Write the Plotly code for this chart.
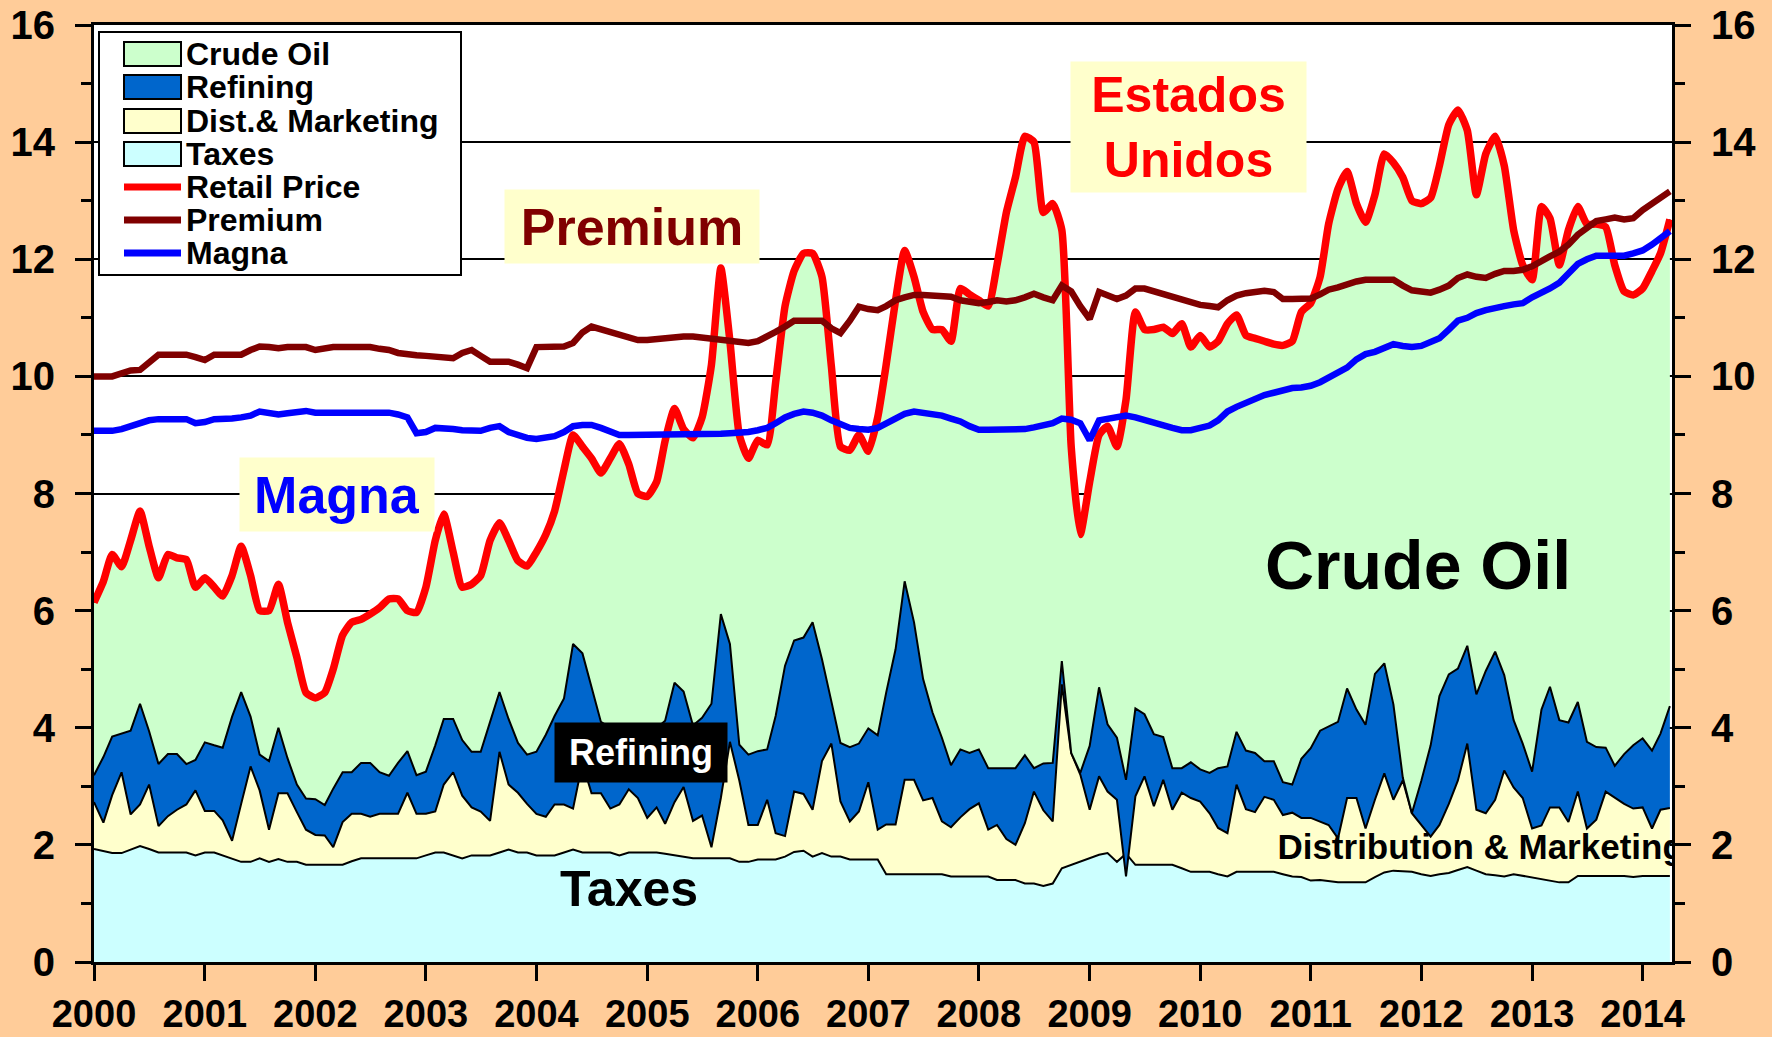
import pandas as pd
import plotly.graph_objects as go

# ---------------- data (monthly, Jan 2000 - Apr 2014) ----------------
months = pd.date_range("2000-01-01", periods=172, freq="MS")

# Retail price (top of the stacked areas)
retail_price = [
    6.14, 6.50, 6.96, 6.75, 7.20, 7.70, 7.10, 6.56, 6.96, 6.90, 6.87, 6.40,
    6.56, 6.40, 6.25, 6.60, 7.10, 6.60, 6.00, 6.00, 6.45, 5.80, 5.20, 4.60,
    4.51, 4.60, 5.00, 5.58, 5.80, 5.85, 5.94, 6.05, 6.20, 6.20, 6.00, 5.97,
    6.40, 7.20, 7.65, 7.00, 6.40, 6.45, 6.60, 7.20, 7.50, 7.20, 6.85, 6.76,
    7.00, 7.30, 7.70, 8.40, 9.00, 8.80, 8.60, 8.35, 8.60, 8.85, 8.50, 8.00,
    7.95, 8.20, 8.90, 9.45, 9.10, 8.95, 9.30, 10.20, 11.85, 10.60, 9.00, 8.60,
    8.91, 8.83, 9.90, 11.20, 11.80, 12.10, 12.10, 11.70, 10.17, 8.80, 8.74, 9.00,
    8.72, 9.30, 10.20, 11.30, 12.15, 11.70, 11.10, 10.80, 10.80, 10.60, 11.50, 11.40,
    11.30, 11.20, 11.90, 12.80, 13.40, 14.10, 14.00, 12.80, 12.95, 12.50, 8.80, 7.30,
    8.20, 9.00, 9.15, 8.80, 9.60, 11.10, 10.80, 10.80, 10.84, 10.73, 10.90, 10.50,
    10.70, 10.50, 10.60, 10.90, 11.05, 10.70, 10.65, 10.60, 10.55, 10.53, 10.60, 11.10,
    11.25, 11.70, 12.60, 13.20, 13.50, 12.95, 12.63, 13.10, 13.80, 13.65, 13.40, 13.00,
    12.95, 13.05, 13.60, 14.30, 14.55, 14.20, 13.10, 13.80, 14.10, 13.60, 12.50, 11.90,
    11.65, 12.90, 12.70, 11.90, 12.50, 12.90, 12.60, 12.60, 12.55, 11.90, 11.45, 11.39,
    11.50, 11.80, 12.10, 12.68,
]

premium = [
    10.00, 10.00, 10.00, 10.05, 10.10, 10.11, 10.25, 10.37, 10.37, 10.37, 10.37, 10.33,
    10.28, 10.37, 10.37, 10.37, 10.37, 10.45, 10.51, 10.50, 10.48, 10.50, 10.51, 10.50,
    10.45, 10.48, 10.50, 10.50, 10.50, 10.51, 10.50, 10.47, 10.45, 10.40, 10.37, 10.36,
    10.35, 10.34, 10.33, 10.31, 10.40, 10.45, 10.35, 10.25, 10.25, 10.25, 10.20, 10.14,
    10.50, 10.51, 10.51, 10.51, 10.57, 10.75, 10.85, 10.80, 10.76, 10.70, 10.65, 10.62,
    10.62, 10.64, 10.66, 10.68, 10.68, 10.68, 10.66, 10.64, 10.62, 10.60, 10.57, 10.57,
    10.60, 10.70, 10.76, 10.85, 10.95, 10.95, 10.95, 10.95, 10.82, 10.74, 10.95, 11.19,
    11.15, 11.13, 11.20, 11.30, 11.35, 11.39, 11.39, 11.38, 11.37, 11.36, 11.30, 11.27,
    11.25, 11.27, 11.30, 11.28, 11.30, 11.35, 11.41, 11.35, 11.30, 11.55, 11.45, 11.20,
    10.98, 11.44, 11.38, 11.32, 11.38, 11.50, 11.50, 11.45, 11.41, 11.35, 11.30, 11.26,
    11.22, 11.20, 11.18, 11.30, 11.38, 11.42, 11.45, 11.46, 11.44, 11.32, 11.32, 11.32,
    11.33, 11.40, 11.48, 11.52, 11.58, 11.62, 11.65, 11.65, 11.65, 11.65, 11.55, 11.47,
    11.45, 11.43, 11.48, 11.55, 11.68, 11.74, 11.70, 11.68, 11.75, 11.80, 11.80, 11.82,
    11.88, 11.98, 12.05, 12.13, 12.25, 12.42, 12.55, 12.65, 12.68, 12.71, 12.68, 12.70,
    12.84, 12.95, 13.05, 13.16,
]

magna = [
    9.07, 9.07, 9.07, 9.10, 9.15, 9.20, 9.25, 9.27, 9.27, 9.27, 9.27, 9.20,
    9.22, 9.27, 9.27, 9.28, 9.30, 9.33, 9.40, 9.38, 9.35, 9.37, 9.40, 9.41,
    9.38, 9.38, 9.38, 9.38, 9.38, 9.38, 9.38, 9.38, 9.38, 9.35, 9.30, 9.03,
    9.05, 9.12, 9.12, 9.10, 9.08, 9.07, 9.07, 9.12, 9.15, 9.05, 8.99, 8.95,
    8.93, 8.95, 8.98, 9.05, 9.15, 9.17, 9.17, 9.12, 9.05, 9.00, 9.00, 9.00,
    9.00, 9.00, 9.00, 9.00, 9.00, 9.00, 9.00, 9.00, 9.02, 9.03, 9.03, 9.05,
    9.08, 9.12, 9.20, 9.30, 9.36, 9.40, 9.38, 9.33, 9.25, 9.18, 9.12, 9.10,
    9.09, 9.12, 9.20, 9.28, 9.36, 9.40, 9.38, 9.37, 9.33, 9.28, 9.23, 9.15,
    9.09, 9.09, 9.09, 9.10, 9.10, 9.10, 9.13, 9.16, 9.20, 9.28, 9.26, 9.20,
    8.91, 9.25, 9.28, 9.30, 9.33, 9.30, 9.25, 9.20, 9.16, 9.12, 9.08, 9.08,
    9.12, 9.16, 9.25, 9.40, 9.48, 9.55, 9.63, 9.68, 9.72, 9.76, 9.80, 9.81,
    9.84, 9.90, 9.98, 10.06, 10.15, 10.29, 10.38, 10.42, 10.48, 10.55, 10.52, 10.50,
    10.52, 10.58, 10.65, 10.80, 10.95, 11.00, 11.08, 11.13, 11.18, 11.20, 11.23, 11.25,
    11.35, 11.42, 11.50, 11.60, 11.75, 11.92, 12.00, 12.06, 12.06, 12.06, 12.06, 12.10,
    12.15, 12.25, 12.35, 12.48,
]

# Cumulative levels of the stacked components
taxes_level = [
    1.93, 1.90, 1.86, 1.86, 1.92, 1.98, 1.93, 1.87, 1.87, 1.87, 1.87, 1.82,
    1.87, 1.87, 1.82, 1.77, 1.71, 1.71, 1.77, 1.71, 1.76, 1.71, 1.71, 1.66,
    1.66, 1.66, 1.66, 1.66, 1.72, 1.77, 1.77, 1.77, 1.77, 1.77, 1.77, 1.77,
    1.82, 1.87, 1.87, 1.82, 1.77, 1.82, 1.82, 1.82, 1.87, 1.92, 1.87, 1.87,
    1.82, 1.82, 1.82, 1.87, 1.92, 1.87, 1.87, 1.87, 1.87, 1.82, 1.87, 1.87,
    1.87, 1.87, 1.85, 1.82, 1.80, 1.77, 1.77, 1.77, 1.77, 1.77, 1.71, 1.71,
    1.75, 1.75, 1.75, 1.80, 1.88, 1.90, 1.80, 1.86, 1.80, 1.80, 1.75, 1.75,
    1.75, 1.75, 1.50, 1.50, 1.50, 1.50, 1.50, 1.50, 1.50, 1.46, 1.46, 1.46,
    1.46, 1.46, 1.40, 1.40, 1.40, 1.34, 1.34, 1.30, 1.34, 1.60, 1.66, 1.72,
    1.77, 1.83, 1.86, 1.71, 1.85, 1.66, 1.66, 1.66, 1.66, 1.66, 1.60, 1.54,
    1.54, 1.54, 1.50, 1.46, 1.54, 1.54, 1.54, 1.54, 1.54, 1.50, 1.46, 1.45,
    1.39, 1.40, 1.38, 1.36, 1.36, 1.36, 1.36, 1.45, 1.53, 1.56, 1.55, 1.54,
    1.50, 1.47, 1.50, 1.52, 1.57, 1.62, 1.56, 1.50, 1.48, 1.46, 1.50, 1.47,
    1.44, 1.42, 1.38, 1.36, 1.36, 1.47, 1.47, 1.47, 1.47, 1.47, 1.47, 1.45,
    1.47, 1.47, 1.47, 1.47,
]

dist_marketing_level = [
    2.73, 2.38, 2.85, 3.24, 2.52, 2.69, 3.03, 2.32, 2.49, 2.60, 2.69, 2.93,
    2.58, 2.58, 2.42, 2.07, 2.70, 3.34, 2.93, 2.26, 2.88, 2.88, 2.56, 2.26,
    2.17, 2.16, 1.96, 2.39, 2.53, 2.53, 2.48, 2.53, 2.53, 2.53, 2.89, 2.53,
    2.53, 2.57, 3.03, 3.24, 2.84, 2.64, 2.57, 2.41, 3.59, 3.03, 2.89, 2.70,
    2.53, 2.48, 2.69, 2.69, 2.62, 3.40, 2.88, 2.88, 2.62, 2.69, 2.95, 2.80,
    2.46, 2.64, 2.36, 2.73, 2.99, 2.41, 2.50, 1.96, 2.80, 3.76, 3.10, 2.34,
    2.34, 2.77, 2.20, 2.15, 2.91, 2.87, 2.60, 3.43, 3.73, 2.74, 2.40, 2.57,
    3.07, 2.26, 2.35, 2.35, 3.11, 3.11, 2.76, 2.80, 2.40, 2.30, 2.47, 2.61,
    2.71, 2.26, 2.34, 2.10, 2.00, 2.37, 2.91, 2.59, 2.40, 4.74, 3.57, 3.20,
    2.60, 3.17, 2.91, 2.77, 1.46, 2.83, 3.17, 2.66, 3.11, 2.60, 2.89, 2.80,
    2.74, 2.54, 2.29, 2.20, 3.03, 2.61, 2.56, 2.82, 2.77, 2.51, 2.55, 2.46,
    2.46, 2.40, 2.34, 2.11, 2.80, 2.80, 2.28, 2.77, 3.22, 2.77, 3.10, 2.54,
    2.35, 2.14, 2.34, 2.70, 3.10, 3.73, 2.60, 2.54, 2.77, 3.27, 2.98, 2.80,
    2.28, 2.33, 2.64, 2.64, 2.39, 2.91, 2.28, 2.43, 2.91, 2.80, 2.70, 2.62,
    2.64, 2.28, 2.60, 2.63,
]

refining_level = [
    3.19, 3.50, 3.85, 3.90, 3.95, 4.41, 3.94, 3.38, 3.55, 3.55, 3.38, 3.45,
    3.75, 3.70, 3.66, 4.19, 4.61, 4.19, 3.54, 3.43, 4.00, 3.48, 3.03, 2.79,
    2.78, 2.68, 2.96, 3.24, 3.24, 3.40, 3.40, 3.24, 3.18, 3.40, 3.60, 3.19,
    3.25, 3.70, 4.15, 4.15, 3.79, 3.59, 3.59, 4.10, 4.61, 4.15, 3.74, 3.54,
    3.59, 3.88, 4.20, 4.50, 5.43, 5.27, 4.70, 4.10, 4.00, 4.00, 4.05, 3.99,
    3.99, 3.99, 4.12, 4.77, 4.62, 4.04, 4.17, 4.41, 5.94, 5.43, 3.71, 3.54,
    3.60, 3.63, 4.20, 5.06, 5.49, 5.54, 5.80, 5.17, 4.45, 3.74, 3.67, 3.73,
    3.99, 3.87, 4.60, 5.34, 6.50, 5.80, 4.83, 4.26, 3.83, 3.36, 3.63, 3.57,
    3.63, 3.31, 3.31, 3.31, 3.31, 3.53, 3.31, 3.39, 3.40, 5.14, 3.57, 3.23,
    3.69, 4.69, 4.06, 3.83, 3.11, 4.33, 4.23, 3.89, 3.84, 3.31, 3.31, 3.41,
    3.29, 3.23, 3.31, 3.34, 3.93, 3.61, 3.57, 3.43, 3.43, 3.07, 3.03, 3.47,
    3.65, 3.95, 4.02, 4.10, 4.67, 4.31, 4.05, 4.92, 5.10, 4.40, 3.15, 2.54,
    3.09, 3.70, 4.54, 4.91, 5.01, 5.40, 4.57, 4.97, 5.30, 4.90, 4.13, 3.73,
    3.25, 4.31, 4.70, 4.13, 4.09, 4.44, 3.76, 3.67, 3.66, 3.35, 3.55, 3.70,
    3.82, 3.61, 3.90, 4.37,
]

years = list(range(2000, 2015))
year_ticks = [f"{y}-01-01" for y in years]
year_labels = [str(y) for y in years]
y_major = list(range(0, 17, 2))
y_minor = list(range(1, 16, 2))

# legend entries (name, kind, colour) in display order
legend_items = [
    ("Crude Oil", "box", "#CCFFCC"),
    ("Refining", "box", "#0066CC"),
    ("Dist.& Marketing", "box", "#FFFFCC"),
    ("Taxes", "box", "#CCFFFF"),
    ("Retail Price", "line", "#FF0000"),
    ("Premium", "line", "#800000"),
    ("Magna", "line", "#0000FF"),
]

# ---------------- figure ----------------
FONT = "Liberation Sans, Arial, sans-serif"
BLACK = "#000000"
W, H = 1772, 1037
ML, MR, MT, MB = 94, 100, 25, 75
PW, PH = W - ML - MR, H - MT - MB


def px(xp):
    return (xp - ML) / PW


def py(yp):
    return (H - MB - yp) / PH


fig = go.Figure()

fig.add_trace(go.Scatter(x=months, y=taxes_level, name="Taxes", mode="lines",
                         line=dict(color=BLACK, width=2), fill="tozeroy",
                         fillcolor="#CCFFFF", showlegend=False, hoverinfo="skip"))
fig.add_trace(go.Scatter(x=months, y=dist_marketing_level, name="Dist.& Marketing", mode="lines",
                         line=dict(color=BLACK, width=2), fill="tonexty",
                         fillcolor="#FFFFCC", showlegend=False, hoverinfo="skip"))
fig.add_trace(go.Scatter(x=months, y=refining_level, name="Refining", mode="lines",
                         line=dict(color=BLACK, width=2), fill="tonexty",
                         fillcolor="#0066CC", showlegend=False, hoverinfo="skip"))
fig.add_trace(go.Scatter(x=months, y=retail_price, name="Crude Oil", mode="lines",
                         line=dict(color=BLACK, width=2, shape="spline", smoothing=0.5),
                         fill="tonexty", fillcolor="#CCFFCC", showlegend=False, hoverinfo="skip"))
fig.add_trace(go.Scatter(x=months, y=retail_price, name="Retail Price", mode="lines",
                         line=dict(color="#FF0000", width=7.5, shape="spline", smoothing=0.5),
                         showlegend=False))
fig.add_trace(go.Scatter(x=months, y=premium, name="Premium", mode="lines",
                         line=dict(color="#800000", width=6.5), showlegend=False))
fig.add_trace(go.Scatter(x=months, y=magna, name="Magna", mode="lines",
                         line=dict(color="#0000FF", width=6.5), showlegend=False))

# clipped in-plot label (runs past the right edge in the original)
fig.add_trace(go.Scatter(x=[pd.Timestamp("2010-09-13")], y=[1.91], mode="text",
                         text=["Distribution & Marketing"], textposition="middle right",
                         textfont=dict(family=FONT, size=35, color=BLACK, weight="bold"),
                         cliponaxis=True, showlegend=False, hoverinfo="skip"))

# anchor trace for the right-hand axis
fig.add_trace(go.Scatter(x=[months[0]], y=[0], yaxis="y2", mode="markers",
                         marker=dict(opacity=0), showlegend=False, hoverinfo="skip"))

tickfont = dict(family=FONT, size=40, color=BLACK, weight="bold")
xtickfont = dict(family=FONT, size=38, color=BLACK, weight="bold")
yaxis_common = dict(
    range=[0, 16], tickvals=y_major, ticktext=[str(v) for v in y_major],
    ticks="outside", ticklen=16, tickwidth=3, tickcolor=BLACK,
    showline=True, linecolor=BLACK, linewidth=3, zeroline=False,
    tickfont=tickfont, automargin=False,
    minor=dict(tickvals=y_minor, ticks="outside", ticklen=10, tickwidth=3,
               tickcolor=BLACK, showgrid=False),
)

fig.update_layout(
    width=W, height=H,
    margin=dict(l=ML, r=MR, t=MT, b=MB),
    paper_bgcolor="#FFCC99",
    plot_bgcolor="#FFFFFF",
    showlegend=False,
    xaxis=dict(
        type="date", range=["2000-01-01", "2014-04-08"],
        tickvals=year_ticks, ticktext=year_labels,
        ticks="outside", ticklen=16, tickwidth=3, tickcolor=BLACK,
        showline=True, linecolor=BLACK, linewidth=3, mirror=True,
        showgrid=False, zeroline=False, tickfont=xtickfont, ticklabelstandoff=0,
        automargin=False,
    ),
    yaxis=dict(**yaxis_common, side="left", showgrid=True, gridcolor=BLACK, gridwidth=2,
               ticklabelstandoff=12),
    yaxis2=dict(**yaxis_common, side="right", overlaying="y", showgrid=False,
                ticklabelstandoff=12),
)

# ---- legend drawn as a boxed key ----
shapes = [dict(type="rect", xref="paper", yref="paper",
               x0=px(99), x1=px(461), y0=py(275), y1=py(32),
               fillcolor="#FFFFFF", line=dict(color=BLACK, width=2), layer="above")]
row_y = [54, 87, 121, 154, 187, 220, 253]
for (name, kind, color), yc in zip(legend_items, row_y):
    if kind == "box":
        shapes.append(dict(type="rect", xref="paper", yref="paper",
                           x0=px(124), x1=px(181), y0=py(yc + 12), y1=py(yc - 12),
                           fillcolor=color, line=dict(color=BLACK, width=2), layer="above"))
    else:
        shapes.append(dict(type="line", xref="paper", yref="paper",
                           x0=px(124), x1=px(181), y0=py(yc), y1=py(yc),
                           line=dict(color=color, width=7), layer="above"))
    fig.add_annotation(x=px(184), y=py(yc), xref="paper", yref="paper",
                       xanchor="left", yanchor="middle", showarrow=False,
                       text=f"<b>{name}</b>",
                       font=dict(family=FONT, size=32, color=BLACK))
fig.update_layout(shapes=shapes)

ann_common = dict(xref="paper", yref="paper", showarrow=False, borderpad=0,
                  xanchor="center", yanchor="middle")
fig.add_annotation(x=px(632), y=py(226.5), text="<b>Premium</b>", width=254, height=73,
                   bgcolor="#FFFFCC", font=dict(family=FONT, size=52, color="#800000"),
                   **ann_common)
fig.add_annotation(x=px(337), y=py(494.5), text="<b>Magna</b>", width=194, height=73,
                   bgcolor="#FFFFCC", font=dict(family=FONT, size=52, color="#0000FF"),
                   **ann_common)
fig.add_annotation(x=px(1188.5), y=py(127), text="<b>Estados<br>Unidos</b>", width=235,
                   height=130, bgcolor="#FFFFCC",
                   font=dict(family=FONT, size=50, color="#FF0000"), **ann_common)
fig.add_annotation(x=px(641), y=py(752.5), text="<b>Refining</b>", width=172, height=59,
                   bgcolor="#000000", font=dict(family=FONT, size=36, color="#FFFFFF"),
                   **ann_common)
fig.add_annotation(x=px(1418), y=py(565), text="<b>Crude Oil</b>",
                   font=dict(family=FONT, size=68, color=BLACK), **ann_common)
fig.add_annotation(x=px(629), y=py(889), text="<b>Taxes</b>",
                   font=dict(family=FONT, size=50, color=BLACK), **ann_common)

fig.write_html(
    "out.html",
    config={"displayModeBar": False},
    post_script="document.body.style.margin='0';document.body.style.background='#FFCC99';",
)
